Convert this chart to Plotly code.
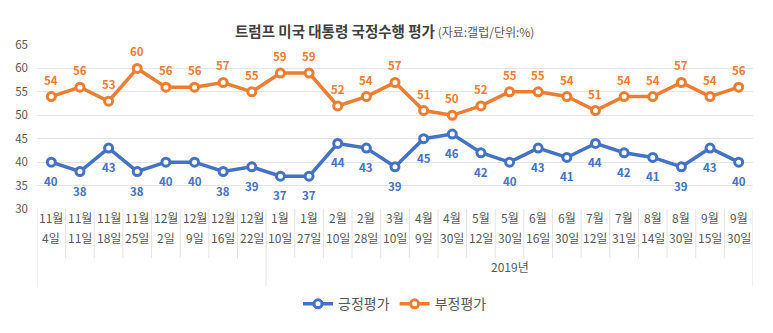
import plotly.graph_objects as go

# Survey dates (month / day) and approval ratings (%)
months = ["11월", "11월", "11월", "11월", "12월", "12월", "12월", "12월",
          "1월", "1월", "2월", "2월", "3월", "4월", "4월", "5월", "5월",
          "6월", "6월", "7월", "7월", "8월", "8월", "9월", "9월"]
days = ["4일", "11일", "18일", "25일", "2일", "9일", "16일", "22일",
        "10일", "27일", "10일", "28일", "10일", "9일", "30일", "12일", "30일",
        "16일", "30일", "12일", "31일", "14일", "30일", "15일", "30일"]
positive = [40, 38, 43, 38, 40, 40, 38, 39, 37, 37, 44, 43, 39, 45, 46,
            42, 40, 43, 41, 44, 42, 41, 39, 43, 40]
negative = [54, 56, 53, 60, 56, 56, 57, 55, 59, 59, 52, 54, 57, 51, 50,
            52, 55, 55, 54, 51, 54, 54, 57, 54, 56]
year_label = "2019년"
year_start = 8  # first survey of 2019

BLUE = "#4472C4"
ORANGE = "#ED7D31"
TXT = "#595959"
FONT = "Noto Sans CJK KR"

# pixel geometry of the plot area
W, H = 773, 333
L, R, T, B = 37, 753, 45, 212
PH = B - T


def py(p):
    """pixel row -> paper y"""
    return (B - p) / PH


xs = list(range(len(months)))

fig = go.Figure()
for name, vals, col in [("긍정평가", positive, BLUE), ("부정평가", negative, ORANGE)]:
    fig.add_trace(go.Scatter(
        x=xs, y=vals, name=name, mode="lines+markers",
        line=dict(color=col, width=3.5),
        marker=dict(size=8, color="white", line=dict(color=col, width=3)),
        cliponaxis=False,
    ))

ann = []
# value labels
for i, v in enumerate(negative):
    ann.append(dict(x=i, y=v, text=f"<b>{v}</b>", showarrow=False, yshift=17,
                    font=dict(color=ORANGE, size=11.5, family=FONT)))
for i, v in enumerate(positive):
    ann.append(dict(x=i, y=v, text=f"<b>{v}</b>", showarrow=False, yshift=-19,
                    font=dict(color=BLUE, size=11.5, family=FONT)))

# two-row category labels
for i, (m, d) in enumerate(zip(months, days)):
    ann.append(dict(x=i, y=py(231), yref="paper", text=m, showarrow=False,
                    font=dict(color=TXT, size=12, family=FONT)))
    ann.append(dict(x=i, y=py(252), yref="paper", text=d, showarrow=False,
                    font=dict(color=TXT, size=12, family=FONT)))

# year group label
ann.append(dict(x=(year_start - 0.5 + len(months) - 0.5) / 2, y=py(281), yref="paper",
                text=year_label, showarrow=False,
                font=dict(color=TXT, size=12, family=FONT)))

# title
fig_title = ("<span style='font-size:14.5px;color:#404040'><b>트럼프 미국 대통령 국정수행 평가</b></span>"
             "<span style='font-size:12px;color:#595959'> (자료:갤럽/단위:%)</span>")
ann.append(dict(x=(384 - L) / (R - L), y=py(18), xref="paper", yref="paper",
                showarrow=False, text=fig_title, font=dict(family=FONT)))

# category separators
shapes = []
for k in range(len(months) + 1):
    xb = k - 0.5
    long_line = k in (0, year_start, len(months))
    bottom = py(291) if long_line else py(262)
    shapes.append(dict(type="line", x0=xb, x1=xb, xref="x", y0=py(212), y1=bottom,
                       yref="paper", line=dict(color="#E3E3E3", width=1)))

fig.update_layout(
    width=W, height=H,
    margin=dict(l=L, r=W - R, t=T, b=H - B),
    paper_bgcolor="white", plot_bgcolor="white",
    font=dict(family=FONT, color=TXT, size=12),
    showlegend=True,
    legend=dict(orientation="h", x=0.5, xanchor="center", y=py(309), yanchor="middle",
                font=dict(size=14, color=TXT, family=FONT), itemwidth=30,
                tracegroupgap=0),
    xaxis=dict(range=[-0.5, len(months) - 0.5], showticklabels=False, showgrid=False,
               zeroline=False, fixedrange=True),
    yaxis=dict(range=[30, 65], dtick=5, showgrid=True, gridcolor="#E6E6E6", gridwidth=1,
               zeroline=False, ticks="", tickfont=dict(size=11.5, color=TXT, family=FONT),
               ticklabelstandoff=8),
    annotations=ann,
    shapes=shapes,
)

fig.write_html("out.html")
